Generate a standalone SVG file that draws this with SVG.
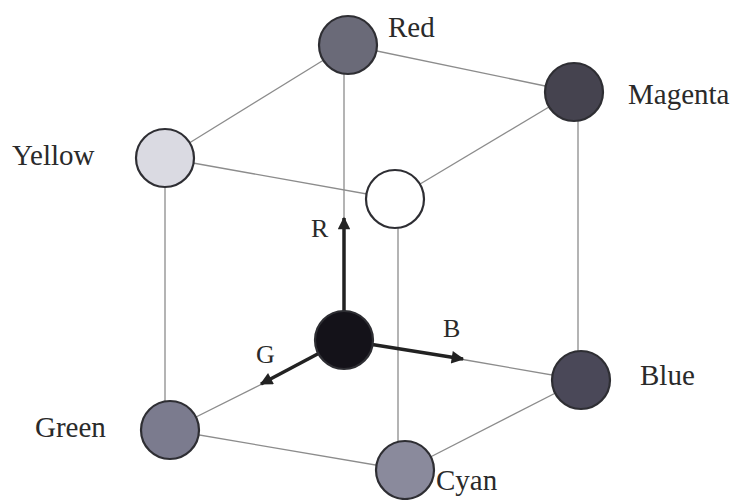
<svg xmlns="http://www.w3.org/2000/svg" width="738" height="500" viewBox="0 0 738 500">
<style>
.edge{stroke:#8c8c8c;stroke-width:1.3;fill:none}
.axis{stroke:#222;stroke-width:3.5;fill:none}
.node{stroke:#2e2e33;stroke-width:2.2}
.lbl{font-family:"Liberation Serif","Times New Roman",serif;font-size:29px;fill:#2a2a2a}
.albl{font-family:"Liberation Serif","Times New Roman",serif;font-size:26px;fill:#2a2a2a}
</style>
<defs>
<marker id="ah" viewBox="0 0 10 10" refX="9" refY="5" markerWidth="4" markerHeight="3.6" orient="auto" markerUnits="strokeWidth">
<path d="M0,0 L10,5 L0,10 Z" fill="#222"/>
</marker>
</defs>
<rect width="738" height="500" fill="#ffffff"/>
<g id="connectors">
<line class="edge" x1="348" y1="45" x2="574" y2="92"/>
<line class="edge" x1="348" y1="45" x2="165" y2="158"/>
<line class="edge" x1="344" y1="60" x2="344" y2="220"/>
<line class="edge" x1="165" y1="158" x2="395" y2="199"/>
<line class="edge" x1="395" y1="199" x2="574" y2="92"/>
<line class="edge" x1="165" y1="158" x2="165" y2="430"/>
<line class="edge" x1="578" y1="92" x2="578" y2="380"/>
<line class="edge" x1="398" y1="199" x2="398" y2="470"/>
<line class="edge" x1="170" y1="430" x2="405" y2="470"/>
<line class="edge" x1="405" y1="470" x2="581" y2="380"/>
<line class="edge" x1="170" y1="430" x2="262" y2="384"/>
<line class="edge" x1="460" y1="359" x2="581" y2="380"/>
<line class="axis" x1="344" y1="340" x2="344" y2="218" marker-end="url(#ah)"/>
<line class="axis" x1="344" y1="340" x2="261" y2="384" marker-end="url(#ah)"/>
<line class="axis" x1="344" y1="340" x2="463" y2="359" marker-end="url(#ah)"/>
</g>
<g id="red"><circle class="node" cx="348" cy="45" r="29" fill="#6a6a78"/><text class="lbl" x="388" y="37">Red</text></g>
<g id="magenta"><circle class="node" cx="574" cy="92" r="29" fill="#45434f"/><text class="lbl" x="628" y="104">Magenta</text></g>
<g id="yellow"><circle class="node" cx="165" cy="158" r="29" fill="#dadae2"/><text class="lbl" x="12" y="165">Yellow</text></g>
<g id="white"><circle class="node" cx="395" cy="199" r="29" fill="#ffffff"/></g>
<g id="black"><circle class="node" cx="344" cy="340" r="29" fill="#141219"/></g>
<g id="green"><circle class="node" cx="170" cy="430" r="29" fill="#7b7b8e"/><text class="lbl" x="35" y="437">Green</text></g>
<g id="cyan"><circle class="node" cx="405" cy="470" r="29" fill="#8a8a9c"/><text class="lbl" x="436" y="490">Cyan</text></g>
<g id="blue"><circle class="node" cx="581" cy="380" r="29" fill="#4a4858"/><text class="lbl" x="640" y="385">Blue</text></g>
<g id="axis-labels">
<text class="albl" x="311" y="237">R</text>
<text class="albl" x="443" y="337">B</text>
<text class="albl" x="256" y="363">G</text>
</g>
</svg>
